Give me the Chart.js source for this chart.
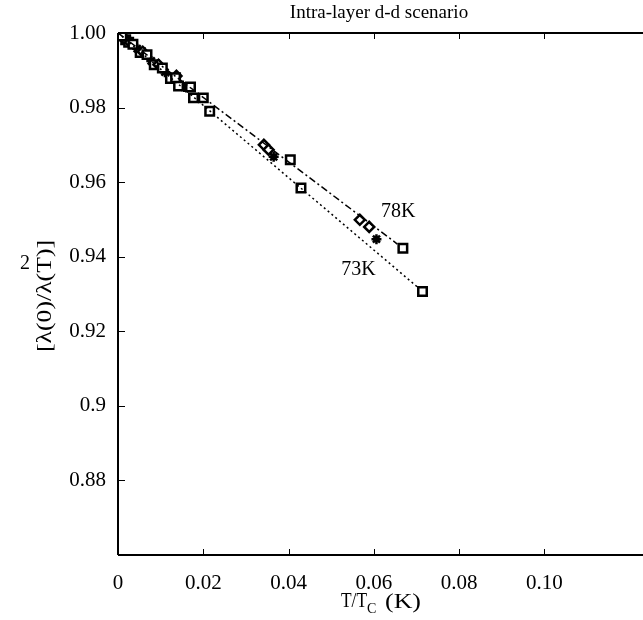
<!DOCTYPE html>
<html>
<head>
<meta charset="utf-8">
<script src="https://cdn.jsdelivr.net/npm/chart.js@4"></script>
<style>
  body { margin: 0; background: #fff; }
  canvas { display: block; }
</style>
</head>
<body>
<canvas id="chart" width="643" height="620"></canvas>
<script>
// data
const sq78 = [[0, 1.0], [0.0009, 0.9992], [0.0035, 0.997], [0.0068, 0.9942], [0.0104, 0.9906],
  [0.0135, 0.988], [0.017, 0.9855], [0.02, 0.9826], [0.0404, 0.966], [0.0668, 0.9423]];
const dia78 = [[0.0004, 0.9997], [0.0015, 0.9985], [0.0028, 0.9975], [0.0058, 0.995], [0.0095, 0.9915],
  [0.0137, 0.9885], [0.0342, 0.970], [0.0353, 0.9687], [0.0567, 0.9499], [0.0589, 0.948]];
const sq73 = [[0, 1.0], [0.0018, 0.9982], [0.0025, 0.9975], [0.0052, 0.9948], [0.0085, 0.9915], [0.0123, 0.9878],
  [0.0142, 0.9858], [0.0177, 0.9826], [0.0215, 0.979], [0.0429, 0.9584], [0.0714, 0.9307]];
const star73 = [[0.0006, 0.9994], [0.0012, 0.9988], [0.0045, 0.9958], [0.0078, 0.9925], [0.011, 0.9895],
  [0.0155, 0.9855], [0.0365, 0.9668], [0.0606, 0.9447]];
const fit78 = [[0, 1.0], [0.0655, 0.9434]];
const fit73 = [[0, 1.0], [0.0705, 0.9316]];

const xTicks = [0, 0.02, 0.04, 0.06, 0.08, 0.10];
const xTickLabels = ["0", "0.02", "0.04", "0.06", "0.08", "0.10"];
const yTicks = [0.88, 0.90, 0.92, 0.94, 0.96, 0.98, 1.00];
const yTickLabels = ["0.88", "0.9", "0.92", "0.94", "0.96", "0.98", "1.00"];
const labels = [["78K", 0.0657, 0.952], ["73K", 0.0564, 0.9365]];

const SERIF = "'Liberation Serif', 'DejaVu Serif', serif";
const pts = a => a.map(p => ({ x: p[0], y: p[1] }));

// draw text squeezed/stretched to a given width
function fitText(ctx, txt, x, y, w) {
  const m = ctx.measureText(txt).width;
  ctx.save();
  ctx.translate(x, y);
  ctx.scale(w / m, 1);
  ctx.fillText(txt, 0, 0);
  ctx.restore();
}

const frame = {
  id: "frame",
  afterDraw(chart) {
    const ctx = chart.ctx, a = chart.chartArea;
    const xs = chart.scales.x, ys = chart.scales.y;
    ctx.save();
    ctx.strokeStyle = "#000";
    ctx.lineWidth = 2;
    ctx.beginPath();
    ctx.moveTo(a.left, a.top); ctx.lineTo(a.right, a.top);
    ctx.moveTo(a.left, a.top); ctx.lineTo(a.left, a.bottom);
    ctx.moveTo(a.left, a.bottom); ctx.lineTo(a.right, a.bottom);
    ctx.stroke();
    ctx.lineWidth = 1;
    ctx.beginPath();
    xTicks.forEach(v => {
      const px = Math.round(xs.getPixelForValue(v)) + 0.5;
      ctx.moveTo(px, a.bottom); ctx.lineTo(px, a.bottom - 6);
      ctx.moveTo(px, a.top); ctx.lineTo(px, a.top + 6);
    });
    yTicks.forEach(v => {
      const py = Math.round(ys.getPixelForValue(v)) + 0.5;
      ctx.moveTo(a.left, py); ctx.lineTo(a.left + 7, py);
    });
    ctx.stroke();

    ctx.fillStyle = "#000";
    ctx.textBaseline = "middle";
    ctx.textAlign = "center";
    ctx.font = "19px " + SERIF;
    ctx.fillText("Intra-layer d-d scenario", 379, 13);

    ctx.font = "20px " + SERIF;
    labels.forEach(l => {
      ctx.fillText(l[0], xs.getPixelForValue(l[1]), ys.getPixelForValue(l[2]));
    });

    // x title with subscript
    ctx.textAlign = "left";
    ctx.font = "20px " + SERIF;
    fitText(ctx, "T/T", 341, 602, 26);
    ctx.font = "14px " + SERIF;
    ctx.fillText("C", 367, 609);
    ctx.font = "20px " + SERIF;
    fitText(ctx, "(K)", 385, 603, 36);

    // y title rotated
    ctx.save();
    ctx.translate(46, 296);
    ctx.rotate(-Math.PI / 2);
    ctx.textAlign = "center";
    fitText(ctx, "[\u03bb(0)/\u03bb(T)]", 0, 0, 112);
    ctx.restore();
    ctx.textAlign = "center";
    ctx.fillText("2", 25, 264);
    ctx.restore();
  }
};

new Chart(document.getElementById("chart"), {
  type: "scatter",
  data: {
    datasets: [
      { data: pts(fit78), showLine: true, pointRadius: 0, borderColor: "#000", borderWidth: 1.5,
        borderDash: [7, 3, 2, 3] },
      { data: pts(fit73), showLine: true, pointRadius: 0, borderColor: "#000", borderWidth: 1.5,
        borderDash: [2, 3] },
      { data: pts(sq78), pointStyle: "rect", pointRadius: 6, borderColor: "#000", backgroundColor: "#fff", borderWidth: 2.5 },
      { data: pts(dia78), pointStyle: "rectRot", pointRadius: 5, borderColor: "#000", backgroundColor: "#fff", borderWidth: 2.5 },
      { data: pts(sq73), pointStyle: "rect", pointRadius: 6, borderColor: "#000", backgroundColor: "#fff", borderWidth: 2.5 },
      { data: pts(star73), pointStyle: "star", pointRadius: 5, borderColor: "#000", borderWidth: 2.5 }
    ]
  },
  options: {
    responsive: false,
    animation: false,
    layout: { autoPadding: false, padding: { top: 33, right: 0, left: 0, bottom: 0 } },
    plugins: { legend: { display: false }, tooltip: { enabled: false } },
    scales: {
      x: {
        type: "linear", min: 0, max: 0.1231,
        grid: { display: false, drawTicks: false },
        border: { display: false },
        afterFit: s => { s.height = 65; },
        afterBuildTicks: s => { s.ticks = xTicks.map(v => ({ value: v })); },
        ticks: {
          padding: 16, color: "#000", font: { family: SERIF, size: 21 },
          callback: v => xTickLabels[xTicks.findIndex(t => Math.abs(t - v) < 1e-9)]
        }
      },
      y: {
        type: "linear", min: 0.86, max: 1.0,
        grid: { display: false, drawTicks: false },
        border: { display: false },
        afterFit: s => { s.width = 118; },
        afterBuildTicks: s => { s.ticks = yTicks.map(v => ({ value: v })); },
        ticks: {
          padding: 12, color: "#000", font: { family: SERIF, size: 21 },
          callback: v => yTickLabels[yTicks.findIndex(t => Math.abs(t - v) < 1e-9)]
        }
      }
    }
  },
  plugins: [frame]
});
</script>
</body>
</html>
